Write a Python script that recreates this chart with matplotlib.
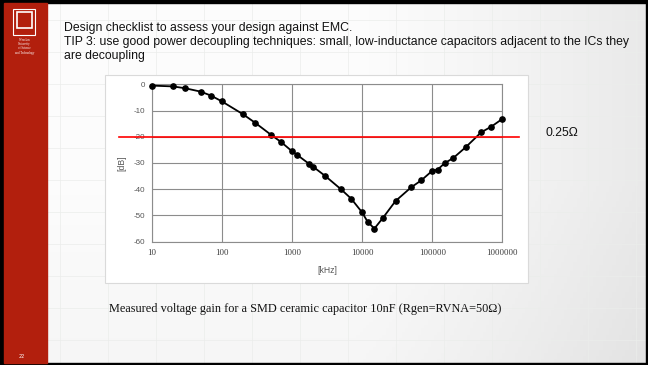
import numpy as np
import matplotlib
matplotlib.use("Agg")
import matplotlib.pyplot as plt
from matplotlib.patches import Rectangle

# ---- data ----
freq_khz = [10, 20, 30, 50, 70, 100, 200, 300, 500, 700, 1000, 1200, 1750, 2000,
            3000, 5000, 7000, 10000, 12000, 15000, 20000, 30000, 50000, 70000,
            100000, 120000, 150000, 200000, 300000, 500000, 700000, 1000000]
gain_db = [-0.5, -0.8, -1.5, -2.8, -4.3, -6.5, -11.4, -14.7, -19.2, -22.0, -25.5,
           -27.0, -30.3, -31.4, -35.0, -40.0, -43.6, -48.8, -52.4, -55.0, -50.8,
           -44.5, -39.3, -36.6, -33.0, -32.5, -30.1, -28.1, -24.0, -18.3, -16.1, -13.2]
threshold_db = -20
x_ticks = [10, 100, 1000, 10000, 100000, 1000000]
x_tick_labels = ["10", "100", "1000", "10000", "100000", "1000000"]
y_ticks = [0, -10, -20, -30, -40, -50, -60]
y_tick_labels = ["0", "-10", "-20", "-30", "-40", "-50", "-60"]

title_lines = ["Design checklist to assess your design against EMC.",
               "TIP 3: use good power decoupling techniques: small, low-inductance capacitors adjacent to the ICs they",
               "are decoupling"]
caption = "Measured voltage gain for a SMD ceramic capacitor 10nF (Rgen=RVNA=50Ω)"
annotation = "0.25Ω"
page_no = "22"

W, H = 648, 365
fig = plt.figure(figsize=(W / 100, H / 100), dpi=100)

def fx(px):
    return px / W

def fy(py):
    return 1 - py / H

# ---- background ----
bg = fig.add_axes([0, 0, 1, 1])
bg.set_xlim(0, W)
bg.set_ylim(H, 0)
bg.axis("off")
xx = np.linspace(0, 1, 200)
yy = np.linspace(0, 1, 120)
X, Y = np.meshgrid(xx, yy)
val = 0.99 - 0.075 * np.clip((X - 0.55) / 0.45, 0, 1) ** 1.2 - 0.025 * np.clip((Y - 0.5) / 0.5, 0, 1)
img = np.dstack([val, val, val])
bg.imshow(img, extent=[0, W, H, 0], aspect="auto", zorder=0)
for gx in range(60, W, 48):
    bg.plot([gx, gx], [0, H], color="#ebedeb", lw=0.5, zorder=0.5)
for gy in range(20, H, 32):
    bg.plot([0, W], [gy, gy], color="#ebedeb", lw=0.5, zorder=0.5)

# borders and sidebar
bg.add_patch(Rectangle((0, 0), W, 3, color="black", zorder=2))
bg.add_patch(Rectangle((0, H - 2.5), W, 2.5, color="black", zorder=2))
bg.add_patch(Rectangle((0, 0), 3.5, H, color="black", zorder=2))
bg.add_patch(Rectangle((W - 2, 0), 2, H, color="black", zorder=2))
bg.add_patch(Rectangle((3.5, 3), 43, H - 5.5, color="#b21f0d", zorder=2))
# logo (simplified)
bg.add_patch(Rectangle((13, 9), 22, 26, fill=False, ec="white", lw=0.8, zorder=3))
bg.add_patch(Rectangle((16.5, 12), 15, 16, fill=False, ec="white", lw=1.2, zorder=3))
for i, t in enumerate(["Wrocław", "University", "of Science", "and Technology"]):
    bg.text(24.5, 40 + i * 4.2, t, color="white", fontsize=2.2, ha="center",
            va="center", family="Liberation Serif", zorder=3)
bg.text(22, 356, page_no, color="white", fontsize=3.5, ha="center", va="center", zorder=3)

# header text
for i, line in enumerate(title_lines):
    bg.text(64, 28.5 + i * 13.5, line, fontsize=8.8, family="Liberation Sans",
            ha="left", va="center", color="#111111", zorder=3)

# chart box
bg.add_patch(Rectangle((105, 75), 423, 208, fc="white", ec="#dadada", lw=0.8, zorder=1))

# caption and annotation
bg.text(109, 309, caption, fontsize=8.8, family="Liberation Serif", ha="left",
        va="center", color="#111111", zorder=3)
bg.text(545.5, 132.5, annotation, fontsize=8.8, family="Liberation Sans", ha="left",
        va="center", color="#111111", zorder=3)

# ---- chart ----
x0, x1, y0, y1 = 151.7, 502.3, 84.3, 241.7
ax = fig.add_axes([fx(x0), fy(y1), fx(x1) - fx(x0), fy(y0) - fy(y1)])
ax.set_facecolor("none")
ax.set_xscale("log")
ax.set_xlim(10, 1000000)
ax.set_ylim(-60, 0)
ax.set_xticks(x_ticks)
ax.set_xticklabels(x_tick_labels, family="Liberation Serif", fontsize=6.3, color="#3a3a3a")
ax.set_yticks(y_ticks)
ax.set_yticklabels(y_tick_labels, family="Liberation Sans", fontsize=5.8, color="#555555")
ax.minorticks_off()
ax.tick_params(length=0, pad=5)
ax.tick_params(axis="x", pad=5)
ax.grid(True, color="#8c8c8c", lw=0.8)
for s in ax.spines.values():
    s.set_color("#8c8c8c")
    s.set_linewidth(0.8)
ax.plot(freq_khz, gain_db, color="black", lw=1.3, marker="o", ms=3.8, zorder=3,
        clip_on=False)
ax.set_xlabel("[kHz]", fontsize=6.2, family="Liberation Sans", color="#555555", labelpad=7)
ax.set_ylabel("[dB]", fontsize=6.2, family="Liberation Sans", color="#555555", labelpad=5)

# threshold line, extending beyond the plot area
xa = (119 - x0) / (x1 - x0)
xb = (519 - x0) / (x1 - x0)
ax.plot([xa, xb], [(threshold_db + 60) / 60] * 2, transform=ax.transAxes,
        color="#ff0000", lw=1.2, clip_on=False, zorder=4)

fig.savefig("out.png", dpi=100)
